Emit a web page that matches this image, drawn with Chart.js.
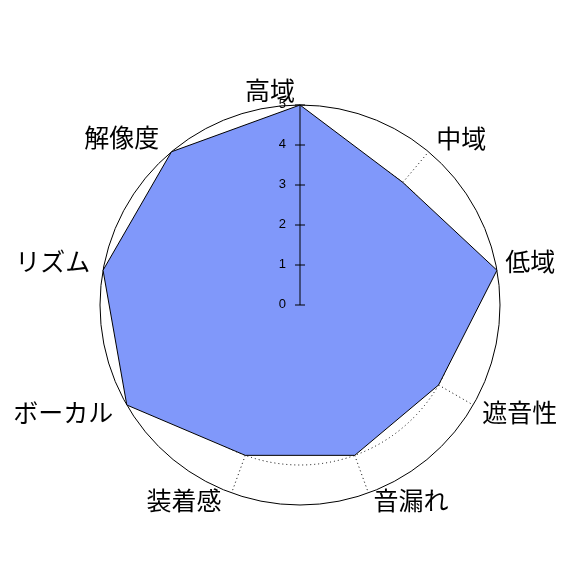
<!DOCTYPE html>
<html>
<head>
<meta charset="utf-8">
<script src="https://cdn.jsdelivr.net/npm/chart.js@4.4.1/dist/chart.umd.min.js"></script>
<style>
  html, body { margin: 0; padding: 0; background: #fff; }
  #wrap { width: 575px; height: 575px; }
</style>
</head>
<body>
<div id="wrap"><canvas id="radar" width="575" height="575"></canvas></div>
<script>
// data
const categories = ["高域", "中域", "低域", "遮音性", "音漏れ", "装着感", "ボーカル", "リズム", "解像度"];
const scores = [5, 4, 5, 4, 4, 4, 5, 5, 5];
const tickValues = [0, 1, 2, 3, 4, 5];

// label placement tweaks (px) so the text sits where the original put it
const labelNudge = [[-30, 0], [7, -2], [-6, -6], [12, 0], [29, -7], [-34, -7], [-29, 0], [-11, -6], [-24, -3]];

const axisPlugin = {
    id: "axisAndLabels",
    afterDatasetsDraw(chart) {
        const scale = chart.scales.r;
        const ctx = chart.ctx;
        const R = scale.drawingArea;
        const cx = scale.xCenter, cy = scale.yCenter;
        ctx.save();

        // vertical value axis with ticks
        const p0 = scale.getPointPositionForValue(0, tickValues[0]);
        const p1 = scale.getPointPositionForValue(0, tickValues[tickValues.length - 1]);
        ctx.strokeStyle = "#000";
        ctx.lineWidth = 1;
        ctx.beginPath();
        ctx.moveTo(p0.x, p0.y);
        ctx.lineTo(p1.x, p1.y);
        ctx.stroke();

        ctx.font = "13px 'Liberation Sans', Arial, sans-serif";
        ctx.fillStyle = "#000";
        ctx.textAlign = "right";
        ctx.textBaseline = "middle";
        tickValues.forEach(v => {
            const p = scale.getPointPositionForValue(0, v);
            ctx.beginPath();
            ctx.moveTo(p.x - 5, p.y);
            ctx.lineTo(p.x + 5, p.y);
            ctx.stroke();
            ctx.fillText(String(v), p.x - 14, p.y - 1);
        });

        // category labels
        ctx.font = "25px 'Noto Sans CJK JP', sans-serif";
        ctx.textAlign = "center";
        ctx.textBaseline = "middle";
        categories.forEach((label, i) => {
            const a = scale.getIndexAngle(i);
            const x = cx + 1.2 * R * Math.sin(a) + labelNudge[i][0];
            const y = cy - 1.075 * R * Math.cos(a) + labelNudge[i][1];
            ctx.fillText(label, x, y);
        });
        ctx.restore();
    }
};

new Chart(document.getElementById("radar"), {
    type: "radar",
    data: {
        labels: categories,
        datasets: [
            {
                data: scores,
                fill: true,
                backgroundColor: "rgb(128, 152, 250)",
                borderColor: "#000",
                borderWidth: 1,
                pointRadius: 0,
                pointHoverRadius: 0,
            },
        ],
    },
    options: {
        responsive: false,
        animation: false,
        layout: { padding: { left: 100, top: 105, right: 75, bottom: 70 } },
        plugins: {
            legend: { display: false },
            tooltip: { enabled: false },
        },
        scales: {
            r: {
                min: 0,
                max: 5,
                ticks: { display: false, stepSize: 1 },
                pointLabels: { display: false },
                grid: {
                    circular: true,
                    color: "#000",
                    lineWidth: 1,
                },
                border: {
                    dash: (c) => (c.index === tickValues.length - 1 ? [] : [1, 3]),
                },
                angleLines: {
                    color: "#000",
                    lineWidth: 1,
                    borderDash: [1, 3],
                },
            },
        },
    },
    plugins: [axisPlugin],
});
</script>
</body>
</html>
